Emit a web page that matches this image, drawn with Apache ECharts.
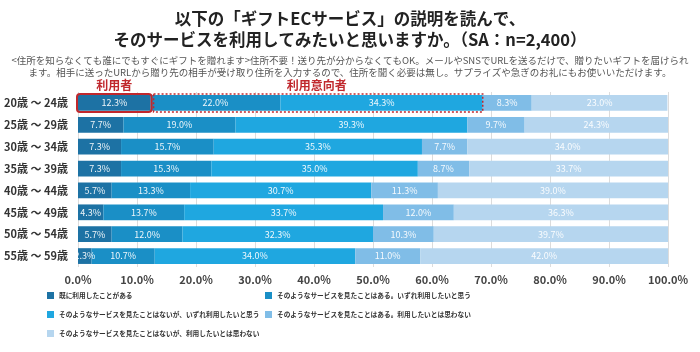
<!DOCTYPE html>
<html>
<head>
<meta charset="utf-8">
<script src="https://cdn.jsdelivr.net/npm/echarts@6/dist/echarts.min.js"></script>
<style>
  html, body { margin: 0; padding: 0; background: #fff; }
  #chart { width: 700px; height: 352px; }
</style>
</head>
<body>
<div id="chart"></div>
<script>
// 年代
const ageGroups = ["20歳 ～ 24歳", "25歳 ～ 29歳", "30歳 ～ 34歳", "35歳 ～ 39歳", "40歳 ～ 44歳", "45歳 ～ 49歳", "50歳 ～ 54歳", "55歳 ～ 59歳"];
const seriesNames = [
  "既に利用したことがある",
  "そのようなサービスを見たことはある。いずれ利用したいと思う",
  "そのようなサービスを見たことはないが、いずれ利用したいと思う",
  "そのようなサービスを見たことはある。利用したいとは思わない",
  "そのようなサービスを見たことはないが、利用したいとは思わない"
];
const usedAlready = [12.3, 7.7, 7.3, 7.3, 5.7, 4.3, 5.7, 2.3];
const seenWillUse = [22.0, 19.0, 15.7, 15.3, 13.3, 13.7, 12.0, 10.7];
const notSeenWillUse = [34.3, 39.3, 35.3, 35.0, 30.7, 33.7, 32.3, 34.0];
const seenWontUse = [8.3, 9.7, 7.7, 8.7, 11.3, 12.0, 10.3, 11.0];
const notSeenWontUse = [23.0, 24.3, 34.0, 33.7, 39.0, 36.3, 39.7, 42.0];

const colors = ["#1d72a4", "#1a8fc6", "#1fa7e0", "#80bde7", "#b6d6ef"];
const FONT = "Noto Sans CJK JP";

const chart = echarts.init(document.getElementById("chart"));

const allValues = [usedAlready, seenWillUse, notSeenWillUse, seenWontUse, notSeenWontUse];
const series = allValues.map((vals, i) => ({
  name: seriesNames[i],
  type: "bar",
  stack: "total",
  barWidth: "72%",
  itemStyle: { color: colors[i] },
  label: {
    show: true,
    position: "inside",
    color: "rgba(255,255,255,0.92)",
    fontSize: 9,
    fontFamily: FONT,
    formatter: (p) => p.value.toFixed(1) + "%"
  },
  data: vals
}));

const legendText = { fontSize: 6.7, color: "#333", fontWeight: "bold", fontFamily: FONT };

chart.setOption({
  backgroundColor: "#fff",
  animation: false,
  title: [
    {
      text: "以下の「ギフトECサービス」の説明を読んで、\nそのサービスを利用してみたいと思いますか。（SA：n=2,400）",
      left: "center",
      top: 3,
      textStyle: { fontSize: 16.5, fontWeight: "bold", color: "#222", lineHeight: 21, fontFamily: FONT, align: "center" }
    },
    {
      text: "<住所を知らなくても誰にでもすぐにギフトを贈れます>住所不要！送り先が分からなくてもOK。メールやSNSでURLを送るだけで、贈りたいギフトを届けられ\nます。相手に送ったURLから贈り先の相手が受け取り住所を入力するので、住所を聞く必要は無し。サプライズや急ぎのお礼にもお使いいただけます。",
      left: "center",
      top: 49,
      textStyle: { fontSize: 9.5, fontWeight: "normal", color: "#555", lineHeight: 12.5, fontFamily: FONT, align: "center" }
    }
  ],
  legend: [
    {
      orient: "vertical",
      left: 47,
      top: 292,
      padding: 0,
      itemGap: 12,
      itemWidth: 7,
      itemHeight: 7,
      icon: "rect",
      textStyle: legendText,
      data: [seriesNames[0], seriesNames[2], seriesNames[4]]
    },
    {
      orient: "vertical",
      left: 265,
      top: 292,
      padding: 0,
      itemGap: 12,
      itemWidth: 7,
      itemHeight: 7,
      icon: "rect",
      textStyle: legendText,
      data: [seriesNames[1], seriesNames[3]]
    }
  ],
  grid: { left: 78, right: 32, top: 92, bottom: 85, containLabel: false },
  xAxis: {
    type: "value",
    min: 0,
    max: 100,
    interval: 10,
    axisLine: { show: false },
    axisTick: { show: false },
    splitLine: { show: true, lineStyle: { color: "#dcdcdc", width: 1 } },
    axisLabel: {
      fontSize: 11,
      fontWeight: "bold",
      color: "#444",
      fontFamily: FONT,
      margin: 7,
      formatter: (v) => v.toFixed(1) + "%"
    }
  },
  yAxis: {
    type: "category",
    inverse: true,
    data: ageGroups,
    axisLine: { show: false },
    axisTick: { show: false },
    axisLabel: { fontSize: 11, fontWeight: "bold", color: "#333", fontFamily: FONT, margin: 10 }
  },
  series: series
});

// 注釈（利用者 / 利用意向者）
function drawNotes() {
  const cat = ageGroups[0];
  const band = chart.convertToPixel({ yAxisIndex: 0 }, cat);
  const x0 = chart.convertToPixel({ xAxisIndex: 0 }, 0);
  const x1 = chart.convertToPixel({ xAxisIndex: 0 }, usedAlready[0]);
  const x2 = chart.convertToPixel({ xAxisIndex: 0 }, usedAlready[0] + seenWillUse[0] + notSeenWillUse[0]);
  const h = 18;
  const red = "#c0282d";
  chart.setOption({
    graphic: [
      {
        type: "rect",
        shape: { x: x0 - 1, y: band - h / 2, width: x1 - x0 + 2, height: h, r: 3 },
        style: { fill: "none", stroke: red, lineWidth: 2 },
        z: 100
      },
      {
        type: "rect",
        shape: { x: x1 + 3, y: band - h / 2, width: x2 - x1 - 3, height: h },
        style: { fill: "none", stroke: red, lineWidth: 1.5, lineDash: [2, 2] },
        z: 100
      },
      {
        type: "text",
        x: (x0 + x1) / 2,
        y: band - h / 2 - 2,
        style: { text: "利用者", fill: red, font: "bold 12px '" + FONT + "'", textAlign: "center", textVerticalAlign: "bottom" },
        z: 100
      },
      {
        type: "text",
        x: (x1 + x2) / 2,
        y: band - h / 2 - 2,
        style: { text: "利用意向者", fill: red, font: "bold 12px '" + FONT + "'", textAlign: "center", textVerticalAlign: "bottom" },
        z: 100
      }
    ]
  });
}
drawNotes();
</script>
</body>
</html>
